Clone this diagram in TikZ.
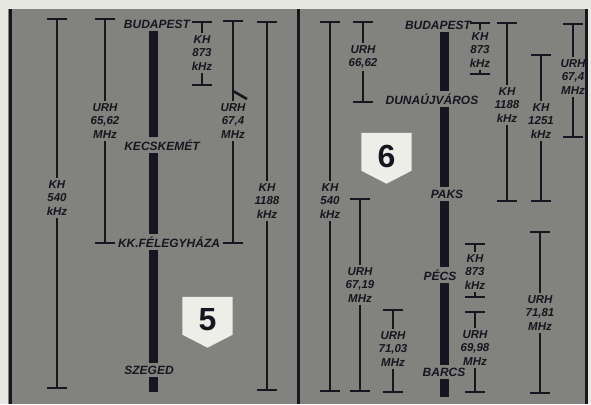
\documentclass[tikz,border=0pt]{standalone}
\usepackage{fontspec}
\setmainfont{Liberation Sans}
\usetikzlibrary{backgrounds}
\definecolor{paper}{RGB}{232,232,226}
\definecolor{panel}{RGB}{130,130,126}
\definecolor{ink}{RGB}{22,22,32}
\definecolor{badgefill}{RGB}{238,238,232}
\tikzset{
  lbl/.style={font=\bfseries\itshape\fontsize{11.5}{13.5}\selectfont, text=ink, align=center, inner sep=2pt},
  city/.style={font=\bfseries\itshape\fontsize{12}{13}\selectfont, text=ink, inner sep=2.5pt},
  rng/.style={draw=ink, line width=2.6pt},
  tickmark/.style={draw=ink, line width=2.8pt},
  bar/.style={draw=ink, line width=9pt},
  frameline/.style={draw=ink, line width=3pt},
  badge/.style={minimum width=50pt, minimum height=46pt, inner sep=0pt, font=\bfseries\fontsize{32}{32}\selectfont, text=ink},
}
\newcommand{\myrange}[6]{%
  \coordinate (#1t) at (#2,#3);
  \coordinate (#1b) at (#2,#5);
  \node[lbl] (#1) at (#2,#4) {#6};
  \draw[rng] (#1t) -- (#1);
  \draw[rng] (#1) -- (#1b);
  \draw[tickmark] ([xshift=-10pt]#1t) -- ([xshift=10pt]#1t);
  \draw[tickmark] ([xshift=-10pt]#1b) -- ([xshift=10pt]#1b);
}
\begin{document}
\begin{tikzpicture}[x=1pt,y=-1pt]
\useasboundingbox (0,0) rectangle (591,404);
\begin{scope}[on background layer]
  \fill[paper] (0,0) rectangle (591,404);
  \fill[panel] (8,9) rectangle (588,404);
\end{scope}
% frame
\draw[frameline] (10,9) -- (10,404);
\draw[frameline] (298,9) -- (298,404);
\draw[frameline] (586,9) -- (586,404);

% ---- left panel: cities
\coordinate (lx) at (153,0);
\node[city] (bud1) at (157,24) {BUDAPEST};
\node[city] (kec) at (162,145) {KECSKEMÉT};
\node[city] (kkf) at (169,242) {KK.FÉLEGYHÁZA};
\node[city] (sze) at (149,370) {SZEGED};
\coordinate (lend) at (153,392);
\draw[bar] (bud1.south -| lx) -- (kec.north -| lx);
\draw[bar] (kec.south -| lx) -- (kkf.north -| lx);
\draw[bar] (kkf.south -| lx) -- (sze.north -| lx);
\draw[bar] (sze.south -| lx) -- (lend);

% ---- left panel: ranges
\myrange{La}{57}{19}{198}{388}{KH\\540\\kHz}
\myrange{Lb}{105}{19}{121}{243}{URH\\65,62\\MHz}
\myrange{Lc}{202}{22}{53}{85}{KH\\873\\kHz}
\myrange{Ld}{233}{21}{121}{243}{URH\\67,4\\MHz}
\myrange{Le}{267}{22}{201}{390}{KH\\1188\\kHz}
\coordinate (Ldk) at (233,91);
\coordinate (Ldk2) at (247,99);
\draw[rng] (Ldk) -- (Ldk2);

% ---- right panel: cities
\coordinate (rx) at (444,0);
\node[city] (bud2) at (438,25) {BUDAPEST};
\node[city] (dun) at (432,99) {DUNAÚJVÁROS};
\node[city] (pak) at (447,194) {PAKS};
\node[city] (pec) at (440,275) {PÉCS};
\node[city] (bar) at (444,372) {BARCS};
\coordinate (rend) at (444,397);
\draw[bar] (bud2.south -| rx) -- (dun.north -| rx);
\draw[bar] (dun.south -| rx) -- (pak.north -| rx);
\draw[bar] (pak.south -| rx) -- (pec.north -| rx);
\draw[bar] (pec.south -| rx) -- (bar.north -| rx);
\draw[bar] (bar.south -| rx) -- (rend);

% ---- right panel: ranges
\myrange{Ra}{330}{22}{201}{391}{KH\\540\\kHz}
\myrange{Rb}{363}{22}{57}{102}{URH\\66,62}
\myrange{Rc}{480}{23}{50}{74}{KH\\873\\kHz}
\myrange{Rd}{507}{23}{105}{201}{KH\\1188\\kHz}
\myrange{Re}{541}{55}{121}{201}{KH\\1251\\kHz}
\myrange{Rf}{573}{24}{77}{137}{URH\\67,4\\MHz}
\myrange{Rg}{360}{199}{285}{391}{URH\\67,19\\MHz}
\myrange{Rh}{393}{310}{349}{392}{URH\\71,03\\MHz}
\myrange{Ri}{475}{244}{272}{297}{KH\\873\\kHz}
\myrange{Rj}{475}{312}{348}{392}{URH\\69,98\\MHz}
\myrange{Rk}{540}{232}{313}{393}{URH\\71,81\\MHz}

% ---- badges
\node[badge] (b5) at (207.5,320) {5};
\node[badge] (b6) at (386.5,156) {6};
\begin{scope}[on background layer]
  \foreach \b in {b5,b6}{
    \fill[badgefill] (\b.north west) -- (\b.north east) -- ([yshift=8.5pt]\b.south east)
      -- ([yshift=-4.5pt]\b.south) -- ([yshift=8.5pt]\b.south west) -- cycle;
  }
\end{scope}
\end{tikzpicture}
\end{document}
